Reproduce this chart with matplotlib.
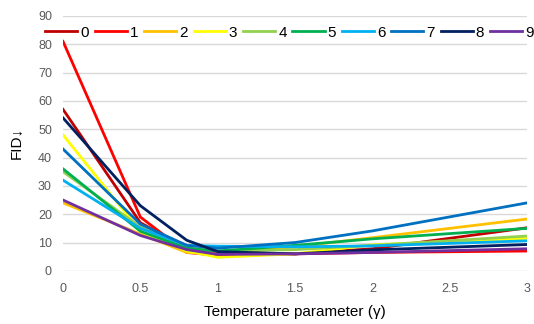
import matplotlib
matplotlib.use("Agg")
import matplotlib.pyplot as plt

gamma = [0, 0.5, 0.8, 1.0, 1.5, 2.0, 3.0]
series_names = ["0", "1", "2", "3", "4", "5", "6", "7", "8", "9"]
fid_0 = [57, 17, 8, 6.5, 6, 7.8, 15.2]
fid_1 = [81, 19, 6.5, 5.5, 6, 6.5, 7]
fid_2 = [24, 13, 6.5, 6, 8.5, 11.7, 18.3]
fid_3 = [48, 14, 7, 4.8, 6, 9.2, 11.5]
fid_4 = [35, 15.5, 8, 7, 7.5, 9, 12.3]
fid_5 = [36, 14, 8, 7, 9, 11.3, 15]
fid_6 = [32, 15, 9, 8.7, 8.5, 8.8, 10.6]
fid_7 = [43, 16.5, 9, 8, 10, 14.1, 24]
fid_8 = [54, 23, 10.8, 6.8, 6, 7.4, 9.3]
fid_9 = [25, 12.5, 7.5, 5.8, 6, 6.5, 7.8]
all_fid = [fid_0, fid_1, fid_2, fid_3, fid_4, fid_5, fid_6, fid_7, fid_8, fid_9]
colors = ["#C00000", "#FF0000", "#FFC000", "#FFFF00", "#92D050",
          "#00B050", "#00B0F0", "#0070C0", "#002060", "#7030A0"]

plt.rcParams['font.family'] = ['Liberation Sans', 'DejaVu Sans']

fig = plt.figure(figsize=(5.34, 3.24), dpi=100)
ax = fig.add_axes([0.118, 0.164, 0.869, 0.787])

for name, vals, c in zip(series_names, all_fid, colors):
    ax.plot(gamma, vals, color=c, lw=2.0, label=name, solid_joinstyle='miter')

ax.set_xlim(0, 3)
ax.set_ylim(0, 90)
ax.set_xticks([0, 0.5, 1, 1.5, 2, 2.5, 3])
ax.set_xticklabels(["0", "0.5", "1", "1.5", "2", "2.5", "3"])
ax.set_yticks(range(0, 91, 10))
ax.grid(axis='y', color='#D9D9D9', lw=1.0)
ax.set_axisbelow(True)
for s in ax.spines.values():
    s.set_visible(False)
ax.tick_params(length=0, labelsize=9, colors='#595959', pad=8)
ax.tick_params(axis='x', pad=9)
ax.set_xlabel("Temperature parameter (γ)", fontsize=11, color='#000000', labelpad=7)
ax.set_ylabel("FID↓", fontsize=11, color='#000000', labelpad=11)

leg = ax.legend(loc='upper center', bbox_to_anchor=(0.488, 1.0), ncol=10, frameon=False,
                fontsize=11, handlelength=2.1, handletextpad=0.2, columnspacing=0.38,
                borderaxespad=0.45, borderpad=0.2)

fig.savefig("out.png", dpi=100)
